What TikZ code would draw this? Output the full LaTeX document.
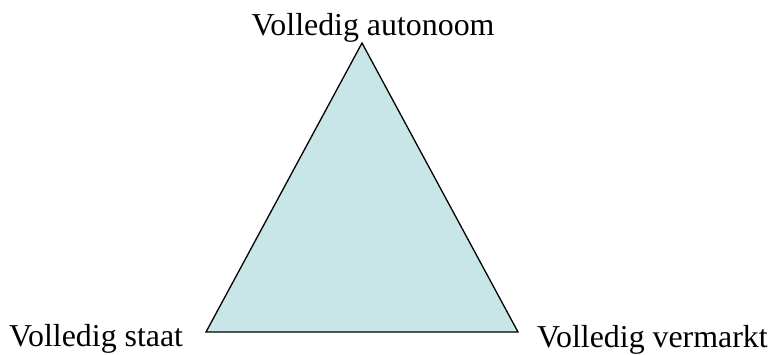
\documentclass[tikz,border=0pt]{standalone}
\usepackage{fontspec}
\setmainfont{Liberation Serif}
\usetikzlibrary{positioning}
\definecolor{trifill}{RGB}{200,230,232}

\begin{document}
\begin{tikzpicture}[x=1bp, y=-1bp, corner/.style={font=\fontsize{32}{38}\selectfont, inner sep=0pt}]

\useasboundingbox (0,0) rectangle (776,354);
\coordinate (top) at (362,43);\coordinate (left) at (206,332);\coordinate (right) at (518,332);
\filldraw[fill=trifill, draw=black, line width=1.3bp, line join=miter] (top)--(left)--(right)--cycle;

\node[corner, anchor=base] (auto) at (373,35) {Volledig autonoom};
\node[corner, anchor=base west] (staat) at (9,346) {Volledig staat};
\node[corner, anchor=base west] (markt) at (537,347) {Volledig vermarkt};

\end{tikzpicture}
\end{document}
